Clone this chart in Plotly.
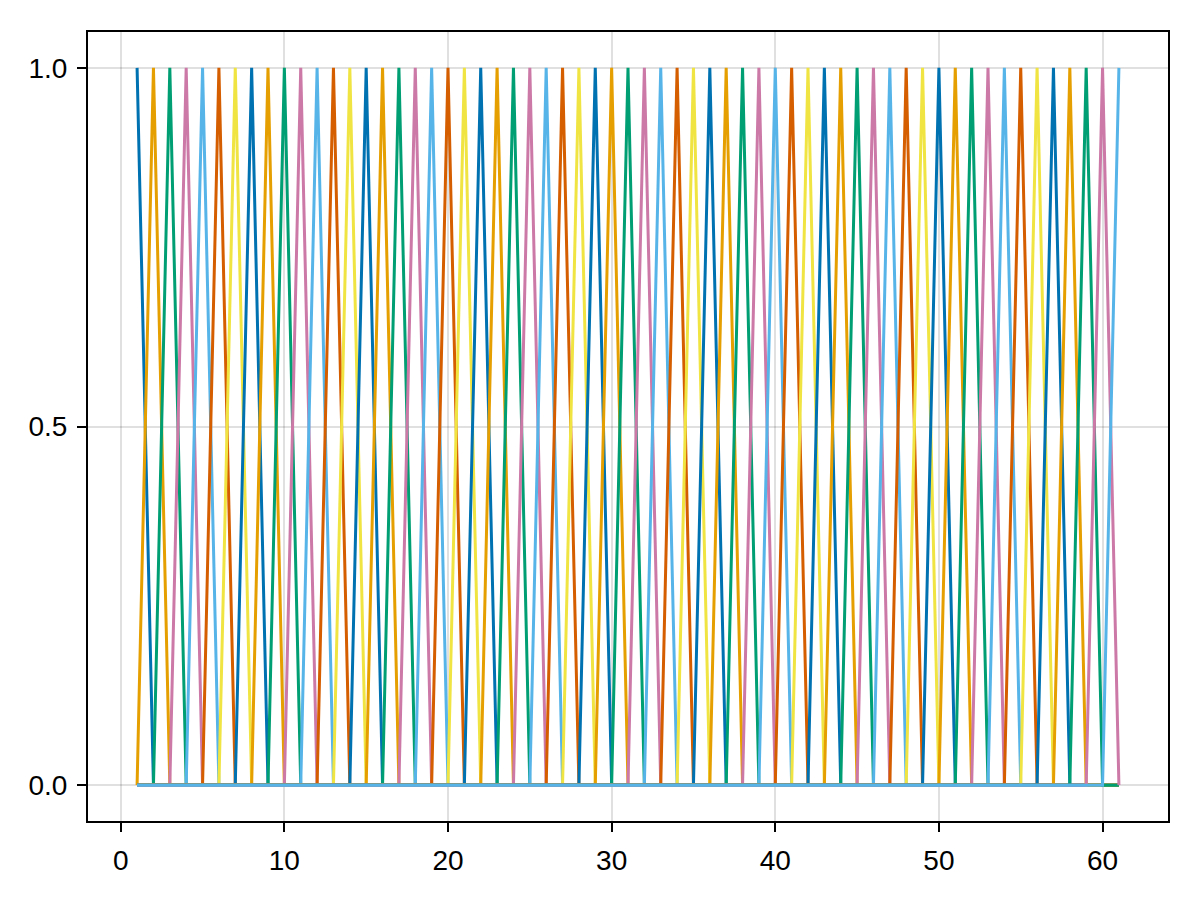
import plotly.graph_objects as go

x_values = [1, 2, 3, 4, 5, 6, 7, 8, 9, 10, 11, 12, 13, 14, 15, 16, 17, 18, 19, 20,
            21, 22, 23, 24, 25, 26, 27, 28, 29, 30, 31, 32, 33, 34, 35, 36, 37, 38, 39, 40,
            41, 42, 43, 44, 45, 46, 47, 48, 49, 50, 51, 52, 53, 54, 55, 56, 57, 58, 59, 60, 61]
# each series is one-hot: value 1 at its peak position, 0 elsewhere
peak_positions = [1, 2, 3, 4, 5, 6, 7, 8, 9, 10, 11, 12, 13, 14, 15, 16, 17, 18, 19, 20,
                  21, 22, 23, 24, 25, 26, 27, 28, 29, 30, 31, 32, 33, 34, 35, 36, 37, 38, 39, 40,
                  41, 42, 43, 44, 45, 46, 47, 48, 49, 50, 51, 52, 53, 54, 55, 56, 57, 58, 59, 60, 61]
palette = ["rgb(0,114,178)", "rgb(230,159,0)", "rgb(0,158,115)", "rgb(204,121,167)",
           "rgb(86,180,233)", "rgb(213,94,0)", "rgb(240,228,66)"]
x_ticks = [0, 10, 20, 30, 40, 50, 60]
y_ticks = [0.0, 0.5, 1.0]
y_tick_text = ["0.0", "0.5", "1.0"]

fig = go.Figure()
for i, p in enumerate(peak_positions):
    y = [1.0 if xv == p else 0.0 for xv in x_values]
    fig.add_trace(go.Scatter(x=x_values, y=y, mode="lines",
                             line=dict(color=palette[i % len(palette)], width=3),
                             showlegend=False, hoverinfo="skip"))

axis_common = dict(showline=True, linecolor="black", linewidth=2, mirror=True,
                   ticks="outside", ticklen=9, tickwidth=2, tickcolor="black",
                   showgrid=True, gridcolor="rgba(0,0,0,0.12)", gridwidth=2,
                   zeroline=False,
                   tickfont=dict(family="Liberation Sans, Arial, Helvetica, sans-serif",
                                 size=28, color="black"))

fig.update_layout(
    width=1200, height=900,
    margin=dict(l=88, r=32, t=32, b=79, autoexpand=False),
    paper_bgcolor="white", plot_bgcolor="white",
    xaxis=dict(range=[-2, 64], tickvals=x_ticks, ticklabelstandoff=4, **axis_common),
    yaxis=dict(range=[-0.05, 1.05], tickvals=y_ticks, ticktext=y_tick_text,
               ticklabelstandoff=4, **axis_common),
)
fig.write_html("out.html", post_script="document.body.style.margin='0';",
               config={"displayModeBar": False})
